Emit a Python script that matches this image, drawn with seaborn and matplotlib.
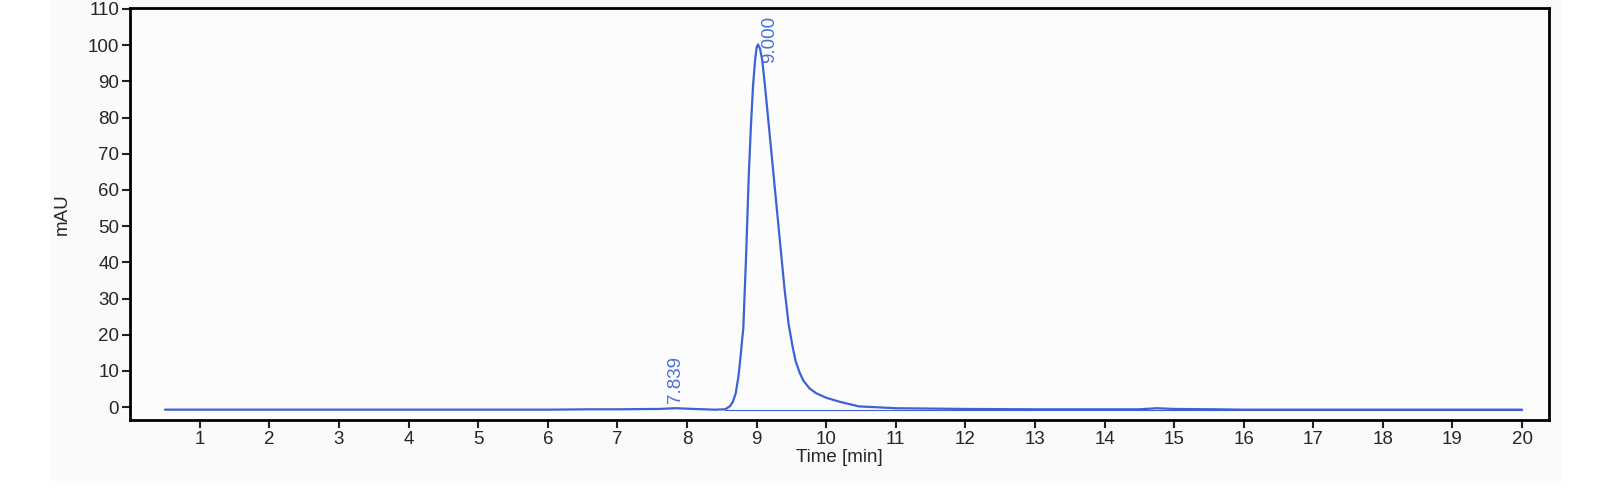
import matplotlib
matplotlib.use("Agg")
import matplotlib.pyplot as plt
import seaborn as sns
import pandas as pd
from matplotlib.patches import Rectangle

sns.set_theme(style="white")
plt.rcParams['font.family'] = ['Liberation Sans', 'DejaVu Sans']

time_min = [0.5, 1.0, 2.0, 3.0, 4.0, 5.0, 6.0, 6.6, 7.0, 7.6, 7.84, 8.1, 8.4, 8.55, 8.62, 8.66,
            8.70, 8.74, 8.77, 8.81, 8.85, 8.89, 8.92, 8.95, 8.98, 9.00, 9.02, 9.05, 9.08, 9.12,
            9.17, 9.23, 9.32, 9.40, 9.46, 9.52, 9.56, 9.62, 9.67, 9.76, 9.86, 10.0, 10.19,
            10.47, 10.8, 11.0, 11.5, 12.0, 13.0, 14.0, 14.5, 14.75, 15.0, 15.6, 16.0, 17.0,
            18.0, 19.0, 20.0]
signal_mau = [-0.7, -0.7, -0.7, -0.7, -0.7, -0.7, -0.7, -0.6, -0.6, -0.5, -0.3, -0.5, -0.7, -0.6, 0.3, 1.5,
              3.8, 8.5, 14.0, 22.0, 42.0, 65.0, 78.0, 89.0, 96.0, 99.3, 100.2, 99.0, 96.0, 89.0,
              79.0, 67.0, 49.0, 33.0, 23.0, 16.5, 12.8, 9.5, 7.4, 5.2, 3.8, 2.6, 1.5,
              0.2, -0.1, -0.3, -0.4, -0.5, -0.6, -0.6, -0.6, -0.3, -0.5, -0.6, -0.7, -0.7,
              -0.7, -0.7, -0.7]
peak_times = [7.839, 9.000]
peak_labels = ["7.839", "9.000"]
peak_label_y = [1.2, 95.0]
baseline_x = [8.55, 20.0]
baseline_y = [-0.7, -0.7]

df = pd.DataFrame({"t": time_min, "v": signal_mau})

fig = plt.figure(figsize=(16.08, 4.91), dpi=100)
fig.patch.set_facecolor("white")
fig.add_artist(Rectangle((0.031, 0.02), 0.94, 0.98, transform=fig.transFigure,
                         facecolor="#fafafa", edgecolor="none", zorder=-10))
ax = fig.add_axes([0.081, 0.145, 0.882, 0.839])
ax.set_facecolor("#fcfcfc")

line_color = "#3d62d3"
sns.lineplot(data=df, x="t", y="v", ax=ax, color=line_color, linewidth=1.6, estimator=None)
ax.plot(baseline_x, baseline_y, color=line_color, linewidth=0.8)

for t, lab, y in zip(peak_times, peak_labels, peak_label_y):
    ax.text(t + (0.06 if lab == "9.000" else 0.0), y, lab, rotation=90, color="#4a6fd8",
            fontsize=13.5, ha="left" if lab == "9.000" else "center", va="bottom")

ax.set_xlim(0, 20.38)
ax.set_ylim(-3.5, 110.3)
ax.set_xticks(range(1, 21))
ax.set_yticks(range(0, 111, 10))
ax.tick_params(axis="both", labelsize=13.5, direction="out", length=6, width=1.5,
               color="#222222", bottom=True, left=True, pad=2)
for s in ax.spines.values():
    s.set_linewidth(2)
    s.set_color("black")
ax.set_xlabel("Time [min]", fontsize=13.5)
ax.set_ylabel("mAU", fontsize=13.5, labelpad=12)
ax.xaxis.labelpad = 1

fig.savefig("out.png", dpi=100)
